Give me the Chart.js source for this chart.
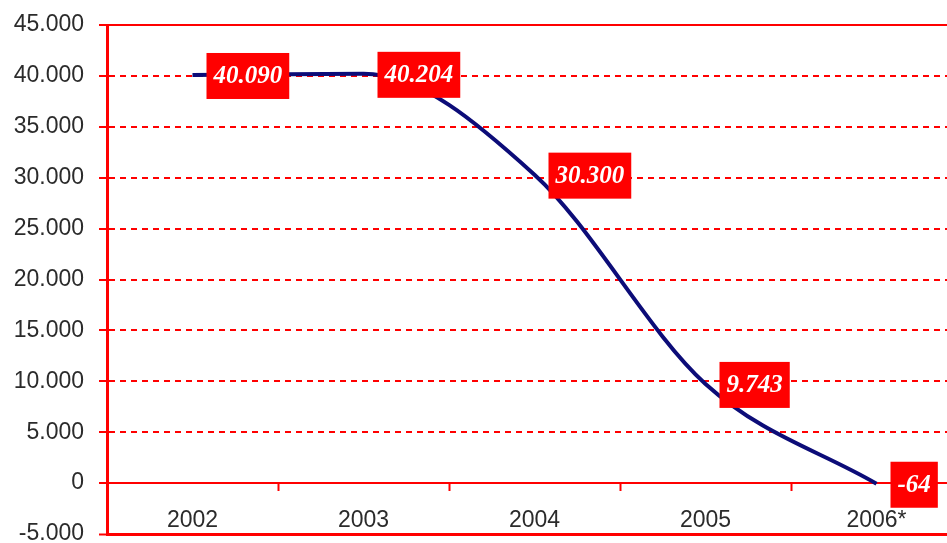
<!DOCTYPE html>
<html>
<head>
<meta charset="utf-8">
<script src="https://cdn.jsdelivr.net/npm/chart.js@4.4.1/dist/chart.umd.min.js"></script>
<style>
    html, body { margin: 0; padding: 0; background: #fff; overflow: hidden; }
    #wrap { width: 970px; height: 543px; }
</style>
</head>
<body>
<div id="wrap"><canvas id="chart" width="970" height="543"></canvas></div>
<script>
// Datos del gráfico
const years = ['2002', '2003', '2004', '2005', '2006*'];
const values = [40090, 40204, 30300, 9743, -64];
const valueLabels = ['40.090', '40.204', '30.300', '9.743', '-64'];
const yMin = -5000;
const yMax = 45000;
const yStep = 5000;

const RED = '#ff0000';

// Formato con punto como separador de miles
function formatThousands(v) {
    return String(v).replace(/\B(?=(\d{3})+(?!\d))/g, '.');
}

// Etiquetas rojas junto a cada punto
const boxLabels = {
    id: 'boxLabels',
    afterDatasetsDraw(chart) {
        const ctx = chart.ctx;
        const meta = chart.getDatasetMeta(0);
        ctx.save();
        ctx.font = 'italic bold 25px "Liberation Serif", "Times New Roman", serif';
        ctx.textAlign = 'center';
        ctx.textBaseline = 'middle';
        meta.data.forEach((pt, i) => {
            const text = valueLabels[i];
            const w = ctx.measureText(text).width + 14;
            const h = 46;
            const x = pt.x + 14;
            const y = pt.y - h / 2 + 1;
            ctx.fillStyle = RED;
            ctx.fillRect(x, y, w, h);
            ctx.fillStyle = '#ffffff';
            ctx.fillText(text, x + w / 2, y + h / 2 + 1);
        });
        ctx.restore();
    }
};

// Borde superior del área del gráfico
const topBorder = {
    id: 'topBorder',
    beforeDatasetsDraw(chart) {
        const { ctx, chartArea } = chart;
        ctx.save();
        ctx.strokeStyle = RED;
        ctx.lineWidth = 2;
        ctx.beginPath();
        ctx.moveTo(chartArea.left, chartArea.top);
        ctx.lineTo(chartArea.right, chartArea.top);
        ctx.stroke();
        ctx.restore();
    }
};

new Chart(document.getElementById('chart').getContext('2d'), {
    type: 'line',
    data: {
        labels: years,
        datasets: [{
            data: values,
            borderColor: '#0c0c78',
            borderWidth: 4,
            pointRadius: 0,
            cubicInterpolationMode: 'monotone',
            fill: false
        }]
    },
    options: {
        responsive: false,
        animation: false,
        devicePixelRatio: 1,
        layout: { padding: { top: 25, right: 8, bottom: 9, left: 0 } },
        plugins: {
            legend: { display: false },
            tooltip: { enabled: false }
        },
        scales: {
            x: {
                type: 'category',
                position: { y: 0 },
                offset: true,
                grid: {
                    drawOnChartArea: false,
                    drawTicks: true,
                    tickLength: 7,
                    tickWidth: 2,
                    tickColor: RED,
                    offset: true
                },
                border: { display: true, color: RED, width: 2 },
                ticks: {
                    color: '#2b2b2b',
                    padding: 17,
                    maxRotation: 0,
                    autoSkip: false,
                    font: { family: '"Liberation Sans", Arial, sans-serif', size: 23 }
                }
            },
            y: {
                min: yMin,
                max: yMax,
                afterFit(scale) {
                    scale.width = 107;
                    scale.paddingTop = 0;
                    scale.paddingBottom = 0;
                },
                grid: {
                    color: RED,
                    lineWidth: (c) => (c.tick && c.tick.value === yMin ? 3 : 2),
                    tickLength: 8,
                    tickWidth: 2,
                    tickColor: RED
                },
                border: {
                    display: true,
                    color: RED,
                    width: 3,
                    dash: (c) => {
                        if (!c.tick) return [];
                        const v = c.tick.value;
                        return (v === 0 || v === yMin || v === yMax) ? [] : [6, 5];
                    }
                },
                ticks: {
                    stepSize: yStep,
                    color: '#2b2b2b',
                    padding: 15,
                    font: { family: '"Liberation Sans", Arial, sans-serif', size: 23 },
                    callback: (v) => formatThousands(v)
                }
            }
        }
    },
    plugins: [topBorder, boxLabels]
});
</script>
</body>
</html>
